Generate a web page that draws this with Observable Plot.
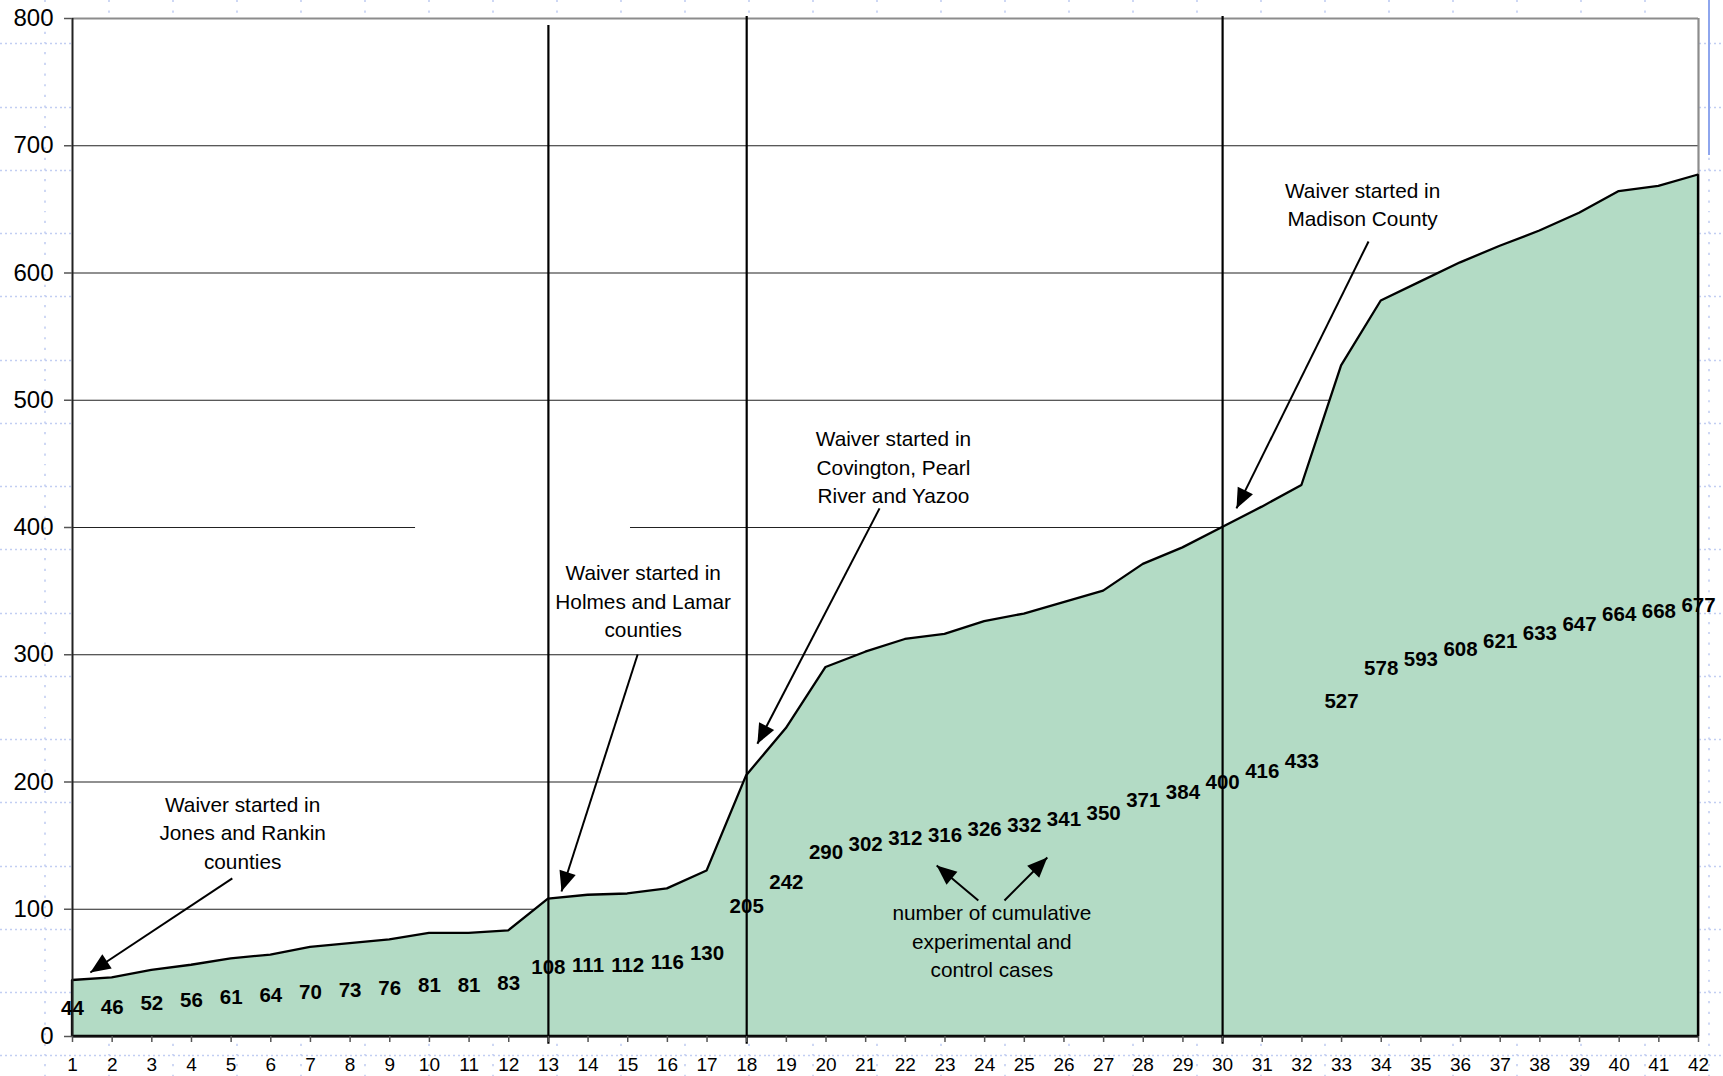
<!DOCTYPE html>
<html>
<head>
<meta charset="utf-8">
<script src="https://cdn.jsdelivr.net/npm/d3@7"></script>
<script src="https://cdn.jsdelivr.net/npm/@observablehq/plot@0.6"></script>
<style>
  html, body { margin: 0; padding: 0; }
  body {
    width: 1723px; height: 1076px; overflow: hidden; position: relative;
    background-color: #ffffff;
    font-family: "Liberation Sans", Arial, sans-serif;
  }
  #bg {
    position: absolute; left: 0; top: 0; width: 1723px; height: 1076px;
    background-image: url("data:image/svg+xml,%3Csvg xmlns='http://www.w3.org/2000/svg' width='64' height='63.25'%3E%3Cg stroke='%23c2cef2' stroke-width='1.6'%3E%3Cline x1='0' y1='44' x2='64' y2='44' stroke-dasharray='2 3'/%3E%3Cline x1='45' y1='0' x2='45' y2='63.25' stroke-dasharray='2 8.5'/%3E%3C/g%3E%3C/svg%3E");
    background-size: 64px 63.25px;
  }
  #chart { position: absolute; left: 0; top: 0; }
  #edge { position: absolute; left: 1708px; top: 0; width: 2px; height: 155px; background: #8ea6ee; }
</style>
</head>
<body>
<div id="bg"></div>
<div id="edge"></div>
<div id="chart"></div>
<script>
// ---- data ----
const periods = d3.range(1, 43);
const cumulativeCases = [44, 46, 52, 56, 61, 64, 70, 73, 76, 81, 81, 83,
  108, 111, 112, 116, 130,
  205, 242, 290, 302, 312, 316, 326, 332, 341, 350, 371, 384, 400, 416, 433,
  527, 578, 593, 608, 621, 633, 647, 664, 668, 677];
const yTicks = [0, 100, 200, 300, 400, 500, 600, 700, 800];
const xTicks = periods;
const gridValues = [100, 200, 300, 500, 600, 700];
// 400 gridline is interrupted in the original
const grid400From = [1, 15.07];
const grid400To = [9.65, 42];

// waiver start markers
const waiverPeriods = [13, 18, 30];
const waiverTop = [794.5, 801.6, 801.6];

// annotations
const noteText = [
  "Waiver started in\nJones and Rankin\ncounties",
  "Waiver started in\nHolmes and Lamar\ncounties",
  "Waiver started in\nCovington, Pearl\nRiver and Yazoo",
  "Waiver started in\nMadison County",
  "number of cumulative\nexperimental and\ncontrol cases"
];
const noteX = [5.29, 15.39, 21.70, 33.53, 24.18];
const noteY = [161.3, 343.3, 448.8, 655, 76];

const arrowFromX = [5.03, 15.25, 21.35, 33.68, 23.84, 24.50];
const arrowFromY = [124.2, 300.2, 415, 624.8, 106.9, 106.9];
const arrowToX = [1.45, 13.33, 18.27, 30.35, 22.79, 25.58];
const arrowToY = [50.3, 114, 230, 415, 134.4, 140.7];

// ---- tables ----
const series = periods.map((p, i) => ({period: p, cases: cumulativeCases[i]}));
const grid400 = grid400From.map((a, i) => ({x1: a, x2: grid400To[i], y: 400}));
const waivers = waiverPeriods.map((p, i) => ({x: p, top: waiverTop[i]}));
const notes = noteText.map((t, i) => ({text: t, x: noteX[i], y: noteY[i]}));
const arrows = arrowFromX.map((x, i) => ({x1: x, y1: arrowFromY[i], x2: arrowToX[i], y2: arrowToY[i]}));

const font = "Liberation Sans, Arial, sans-serif";

const chart = Plot.plot({
  width: 1723,
  height: 1076,
  marginLeft: 72,
  marginRight: 25,
  marginTop: 18,
  marginBottom: 40,
  style: {fontFamily: font, background: "transparent", overflow: "visible", color: "black"},
  x: {domain: [1, 42], label: null},
  y: {domain: [0, 800], label: null},
  marks: [
    Plot.frame({fill: "white", stroke: "none"}),
    Plot.ruleY(gridValues, {stroke: "#222", strokeWidth: 1.2}),
    Plot.ruleY(grid400, {y: "y", x1: "x1", x2: "x2", stroke: "#222", strokeWidth: 1.2}),
    Plot.ruleY([800], {stroke: "#8c8c8c", strokeWidth: 2.2}),
    Plot.ruleX([42], {stroke: "#8c8c8c", strokeWidth: 2.2}),
    Plot.areaY(series, {x: "period", y: "cases", fill: "#b3dbc5", stroke: "black", strokeWidth: 2.3, strokeLinejoin: "miter"}),
    Plot.ruleX([1], {stroke: "#222", strokeWidth: 2}),
    Plot.ruleY([0], {stroke: "#111", strokeWidth: 2.2}),
    Plot.ruleX(waivers, {x: "x", y1: -6, y2: "top", stroke: "black", strokeWidth: 2.2}),
    Plot.text(series, {
      x: "period", y: d => d.cases / 2, text: d => String(d.cases),
      fontSize: 20.5, fontWeight: "bold", fill: "black", fontFamily: font
    }),
    Plot.text(notes, {
      x: "x", y: "y", text: "text", fontSize: 20.8, lineHeight: 1.37,
      lineAnchor: "middle", textAnchor: "middle", fill: "black", fontFamily: font
    }),
    Plot.link(arrows, {
      x1: "x1", y1: "y1", x2: "x2", y2: "y2",
      stroke: "black", strokeWidth: 2, markerEnd: "arrow"
    }),
    Plot.axisY({ticks: yTicks, tickSize: 8, tickPadding: 11, fontSize: 24, stroke: "#555", strokeWidth: 1.5, fill: "black", label: null, tickFormat: "d"}),
    Plot.axisX({ticks: xTicks, tickSize: 6, tickPadding: 15, fontSize: 19, stroke: "#555", strokeWidth: 1.5, fill: "black", label: null, tickFormat: "d"})
  ]
});

// filled triangular arrowheads
chart.querySelectorAll("marker").forEach(m => {
  m.setAttribute("markerUnits", "userSpaceOnUse");
  m.setAttribute("viewBox", "-22 -10 24 20");
  m.setAttribute("markerWidth", 24);
  m.setAttribute("markerHeight", 20);
  m.setAttribute("fill", "black");
  m.setAttribute("stroke", "none");
  m.querySelectorAll("path").forEach(p => p.setAttribute("d", "M0,0L-20,-8.5L-20,8.5Z"));
});

document.getElementById("chart").appendChild(chart);
</script>
</body>
</html>
